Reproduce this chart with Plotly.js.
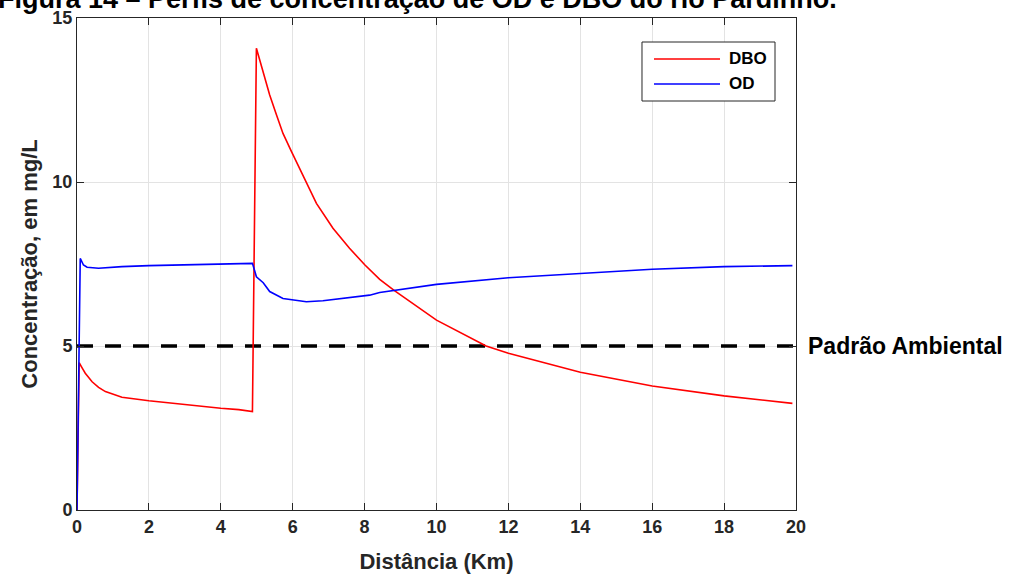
<!DOCTYPE html>
<html>
<head>
<meta charset="utf-8">
<script src="https://cdn.plot.ly/plotly-3.0.1.min.js"></script>
<style>html,body{margin:0;padding:0;background:#fff;}#chart{width:1010px;height:576px;}</style>
</head>
<body>
<div id="chart"></div>
<script>
// ---- data ----
var figureTitle = "Figura 14 – Perfis de concentração de OD e DBO do rio Pardinho.";
var xTitle = "Distância (Km)";
var yTitle = "Concentração, em mg/L";
var standardLabel = "Padrão Ambiental";
var standardValue = 5;
var seriesNames = ["DBO", "OD"];
var xTicks = [0, 2, 4, 6, 8, 10, 12, 14, 16, 18, 20];
var yTicks = [0, 5, 10, 15];

var dboX = [0, 0.06, 0.15, 0.23, 0.42, 0.6, 0.79, 1.25, 2.0, 2.64, 3.2, 4.0, 4.5, 4.88,
            4.99, 5.18, 5.36, 5.55, 5.73, 5.97, 6.19, 6.43, 6.66, 7.12, 7.58, 8.01, 8.42,
            8.83, 10.0, 11.38, 12.0, 14.0, 16.0, 18.0, 19.9];
var dboY = [0, 4.49, 4.32, 4.17, 3.91, 3.74, 3.61, 3.44, 3.33, 3.25, 3.18, 3.10, 3.06, 3.0,
            14.08, 13.36, 12.65, 12.04, 11.48, 10.92, 10.42, 9.86, 9.35, 8.59, 7.98, 7.47, 7.03,
            6.69, 5.79, 5.0, 4.78, 4.2, 3.78, 3.48, 3.25];

var odX = [0, 0.09, 0.18, 0.28, 0.6, 1.25, 2.0, 2.64, 3.3, 4.0, 4.88, 4.94, 4.99, 5.18, 5.36,
           5.73, 6.0, 6.38, 6.84, 7.57, 8.14, 8.42, 8.83, 10.0, 12.0, 14.0, 16.0, 18.0, 19.9];
var odY = [0, 7.67, 7.47, 7.40, 7.37, 7.42, 7.45, 7.47, 7.48, 7.50, 7.52, 7.3, 7.11, 6.93, 6.66,
           6.45, 6.40, 6.35, 6.38, 6.48, 6.55, 6.63, 6.69, 6.88, 7.08, 7.20, 7.34, 7.42, 7.45];

var xRange = [0, 20];
var yRange = [0, 15];

// ---- chart ----
var FONT = "Liberation Sans, Arial, sans-serif";
var axisColor = "#262626";
var seriesColors = ["#ff0000", "#0000ff"];

var traces = [
  {x: xRange, y: [standardValue, standardValue], mode: "lines", showlegend: false, hoverinfo: "skip",
   line: {color: "#000000", width: 3.5, dash: "16px,12px"}},
  {x: dboX, y: dboY, mode: "lines", name: seriesNames[0], showlegend: false,
   line: {color: seriesColors[0], width: 1.6}},
  {x: odX, y: odY, mode: "lines", name: seriesNames[1], showlegend: false,
   line: {color: seriesColors[1], width: 1.6}}
];

// legend box (MATLAB style) drawn in paper coordinates
var legX0 = 0.7858, legX1 = 0.9708, legY0 = 0.8313, legY1 = 0.9512;
var legLineX0 = 0.8025, legLineX1 = 0.8943, legTextX = 0.904;
var legRowY = [0.9167, 0.8659];

var shapes = [
  {type: "rect", xref: "paper", yref: "paper", x0: legX0, x1: legX1, y0: legY0, y1: legY1,
   line: {color: axisColor, width: 1}, fillcolor: "#ffffff", layer: "above"}
];
var annotations = [
  {text: "<b>" + figureTitle + "</b>", xref: "paper", yref: "paper", x: 0.473, y: 1.0386,
   xanchor: "center", yanchor: "middle", showarrow: false,
   font: {family: FONT, size: 27, color: "#000000"}},
  {text: "<b>" + standardLabel + "</b>", xref: "paper", yref: "y", x: 1.0139, y: standardValue,
   xanchor: "left", yanchor: "middle", showarrow: false,
   font: {family: FONT, size: 23, color: "#000000"}}
];
for (var i = 0; i < seriesNames.length; i++) {
  shapes.push({type: "line", xref: "paper", yref: "paper", x0: legLineX0, x1: legLineX1,
               y0: legRowY[i], y1: legRowY[i], line: {color: seriesColors[i], width: 1.6}, layer: "above"});
  annotations.push({text: "<b>" + seriesNames[i] + "</b>", xref: "paper", yref: "paper",
                    x: legTextX, y: legRowY[i], xanchor: "left", yanchor: "middle", showarrow: false,
                    font: {family: FONT, size: 17, color: "#000000"}});
}

var layout = {
  width: 1010, height: 576,
  margin: {l: 77, r: 214, t: 18, b: 66},
  paper_bgcolor: "#ffffff", plot_bgcolor: "#ffffff",
  font: {family: FONT, color: axisColor},
  showlegend: false,
  xaxis: {
    range: xRange, tickvals: xTicks, ticktext: xTicks.map(String),
    showgrid: true, gridcolor: "#e3e3e3", gridwidth: 1, zeroline: false,
    showline: true, linecolor: axisColor, linewidth: 1, mirror: "ticks",
    ticks: "inside", ticklen: 7, tickcolor: axisColor, tickwidth: 1,
    tickfont: {family: FONT, size: 18, color: axisColor, weight: "bold"},
    title: {text: xTitle, font: {family: FONT, size: 22, color: axisColor, weight: "bold"}, standoff: 18}
  },
  yaxis: {
    range: yRange, tickvals: yTicks, ticktext: yTicks.map(String),
    showgrid: true, gridcolor: "#e3e3e3", gridwidth: 1, zeroline: false,
    showline: true, linecolor: axisColor, linewidth: 1, mirror: "ticks",
    ticks: "inside", ticklen: 7, tickcolor: axisColor, tickwidth: 1,
    tickfont: {family: FONT, size: 18, color: axisColor, weight: "bold"},
    title: {text: yTitle, font: {family: FONT, size: 22, color: axisColor, weight: "bold"}, standoff: 8}
  },
  shapes: shapes,
  annotations: annotations
};

Plotly.newPlot("chart", traces, layout, {displayModeBar: false, staticPlot: true});
</script>
</body>
</html>
